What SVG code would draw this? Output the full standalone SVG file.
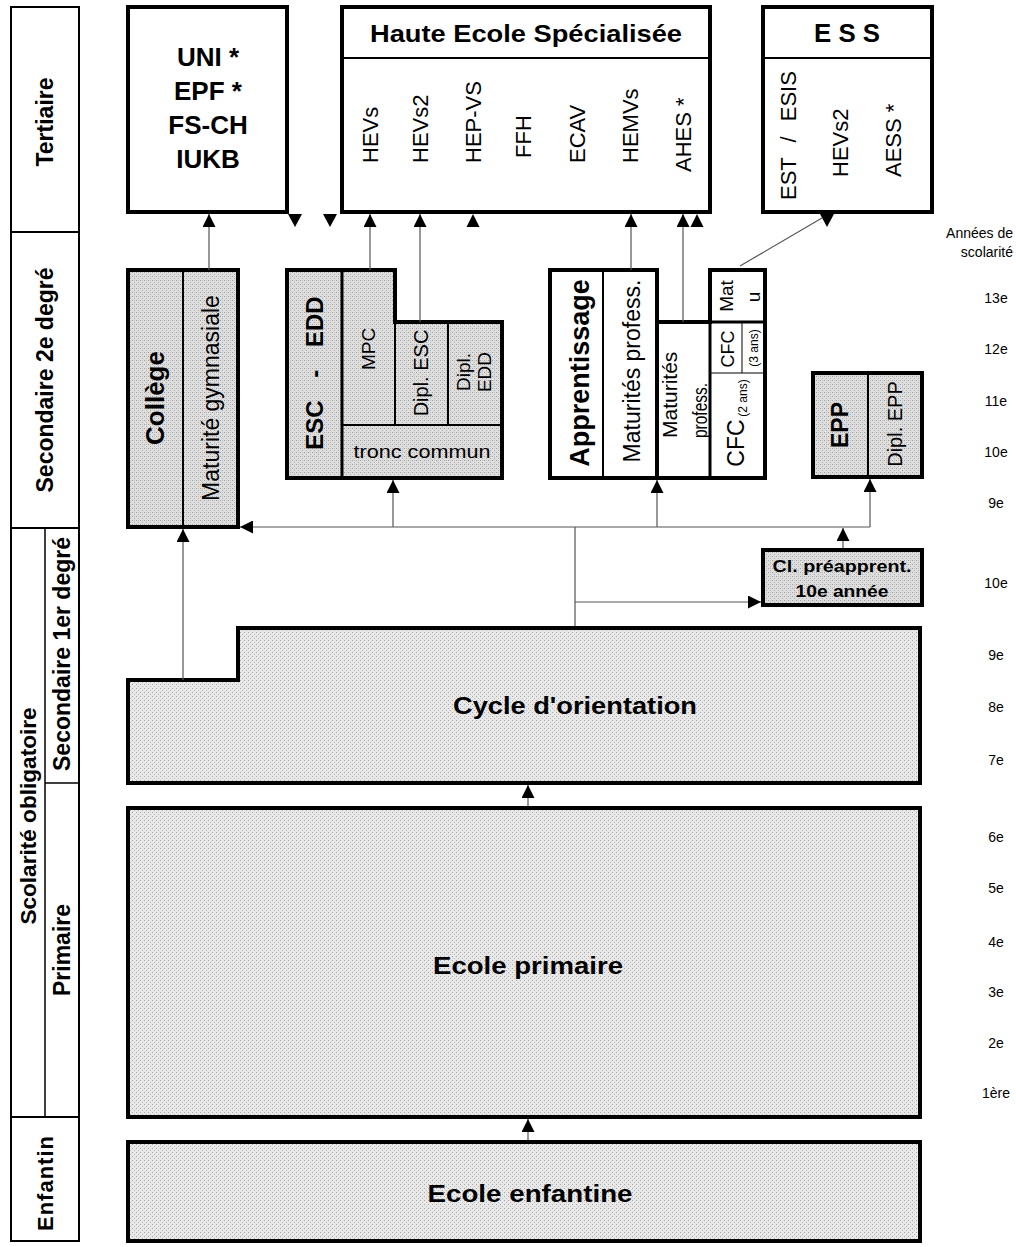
<svg xmlns="http://www.w3.org/2000/svg" width="1016" height="1247" viewBox="0 0 1016 1247">
<defs>
<pattern id="stip" width="4" height="4" patternUnits="userSpaceOnUse">
<rect width="4" height="4" fill="#e8e8e8"/>
<rect x="0" y="0" width="1" height="1" fill="#a8a8a8"/>
<rect x="2" y="2" width="1" height="1" fill="#bcbcbc"/>
</pattern>
<pattern id="stip2" width="4" height="4" patternUnits="userSpaceOnUse">
<rect width="4" height="4" fill="#dedede"/>
<rect x="0" y="0" width="1" height="1" fill="#a0a0a0"/>
<rect x="2" y="2" width="1" height="1" fill="#b0b0b0"/>
<rect x="2" y="0" width="1" height="1" fill="#c4c4c4"/>
</pattern>
<marker id="ah" viewBox="0 0 10 10" refX="10" refY="5" markerWidth="13" markerHeight="13" markerUnits="userSpaceOnUse" orient="auto">
<path d="M0,0 L10,5 L0,10 z" fill="#000"/>
</marker>
</defs>
<style>
text{font-family:"Liberation Sans",Arial,sans-serif;fill:#000}
.b{font-weight:bold}
.box{stroke:#000;stroke-width:4;fill:#fff}
.g1{fill:url(#stip)}
.g2{fill:url(#stip2)}
.div{stroke:#000;stroke-width:3;fill:none}
.thin{stroke:#000;stroke-width:1;fill:none}
.lab{stroke:#000;stroke-width:2;fill:#fff}
.con{stroke:#555;stroke-width:1.2;fill:none;marker-end:url(#ah)}
.ln{stroke:#555;stroke-width:1.2;fill:none}
.tri{fill:#000}
.v{dominant-baseline:central}
.yr{font-size:14px;text-anchor:middle}
.m{text-anchor:middle}
</style>

<g id="left-column">
<rect class="lab" x="11" y="7" width="68" height="225"/>
<rect class="lab" x="11" y="232" width="68" height="296"/>
<rect class="lab" x="11" y="528" width="68" height="589"/>
<line class="div" x1="45" y1="528" x2="45" y2="1117" style="stroke-width:1.5"/>
<line class="div" x1="45" y1="783" x2="79" y2="783" style="stroke-width:1.5"/>
<rect class="lab" x="11" y="1117" width="68" height="124"/>
<text class="b v m" font-size="23" transform="translate(45,122) rotate(-90)">Tertiaire</text>
<text class="b v m" font-size="23" transform="translate(45,380) rotate(-90)">Secondaire 2e degré</text>
<text class="b v m" font-size="22.6" transform="translate(28,816) rotate(-90)">Scolarité obligatoire</text>
<text class="b v m" font-size="23" transform="translate(62,654) rotate(-90)">Secondaire 1er degré</text>
<text class="b v m" font-size="23" transform="translate(62,950) rotate(-90)">Primaire</text>
<text class="b v m" font-size="22" letter-spacing="1" transform="translate(45,1183) rotate(-90)">Enfantin</text>
</g>

<g id="years">
<text font-size="14" text-anchor="end" x="1013" y="238">Années de</text>
<text font-size="14" text-anchor="end" x="1013" y="257">scolarité</text>
<text class="yr" x="996" y="303">13e</text>
<text class="yr" x="996" y="354">12e</text>
<text class="yr" x="996" y="406">11e</text>
<text class="yr" x="996" y="457">10e</text>
<text class="yr" x="996" y="508">9e</text>
<text class="yr" x="996" y="588">10e</text>
<text class="yr" x="996" y="660">9e</text>
<text class="yr" x="996" y="712">8e</text>
<text class="yr" x="996" y="765">7e</text>
<text class="yr" x="996" y="842">6e</text>
<text class="yr" x="996" y="893">5e</text>
<text class="yr" x="996" y="947">4e</text>
<text class="yr" x="996" y="997">3e</text>
<text class="yr" x="996" y="1048">2e</text>
<text class="yr" x="996" y="1098">1ère</text>
</g>

<g id="uni">
<rect class="box" x="128" y="7" width="159" height="205"/>
<text class="b m" font-size="26" x="208" y="66">UNI *</text>
<text class="b m" font-size="26" x="208" y="100">EPF *</text>
<text class="b m" font-size="26" x="208" y="134">FS-CH</text>
<text class="b m" font-size="26" x="208" y="168">IUKB</text>
</g>

<g id="hes">
<rect class="box" x="342" y="7" width="368" height="205"/>
<line class="div" x1="342" y1="58" x2="710" y2="58" style="stroke-width:2"/>
<text class="b m" font-size="24" x="526" y="42" textLength="312" lengthAdjust="spacingAndGlyphs">Haute Ecole Spécialisée</text>
<text class="v" font-size="22" transform="translate(370,163) rotate(-90)">HEVs</text>
<text class="v" font-size="22" transform="translate(420,163) rotate(-90)">HEVs2</text>
<text class="v" font-size="22" transform="translate(473,163) rotate(-90)">HEP-VS</text>
<text class="v" font-size="22" transform="translate(523,158) rotate(-90)">FFH</text>
<text class="v" font-size="22" transform="translate(577,163) rotate(-90)">ECAV</text>
<text class="v" font-size="22" transform="translate(630,163) rotate(-90)">HEMVs</text>
<text class="v" font-size="22" transform="translate(683,172) rotate(-90)">AHES *</text>
</g>

<g id="ess">
<rect class="box" x="763" y="7" width="169" height="205"/>
<line class="div" x1="763" y1="58" x2="932" y2="58" style="stroke-width:2"/>
<text class="b m" font-size="25" x="847" y="42" textLength="66" lengthAdjust="spacingAndGlyphs">E S S</text>
<text class="v" font-size="22" word-spacing="9" transform="translate(788,200) rotate(-90)">EST / ESIS</text>
<text class="v" font-size="22" transform="translate(840,177) rotate(-90)">HEVs2</text>
<text class="v" font-size="22" transform="translate(893,177) rotate(-90)">AESS *</text>
</g>

<g id="college">
<rect class="box g2" x="128" y="270" width="110" height="257"/>
<line class="div" x1="183" y1="270" x2="183" y2="527" style="stroke-width:2"/>
<text class="b v m" font-size="26" transform="translate(155,398) rotate(-90)">Collège</text>
<text class="v m" font-size="23" transform="translate(211,398) rotate(-90)">Maturité gymnasiale</text>
</g>

<g id="esc-edd">
<path class="box g2" d="M287,270 H395 V322 H502 V478 H287 Z"/>
<line class="div" x1="342" y1="270" x2="342" y2="478"/>
<line class="div" x1="395" y1="322" x2="395" y2="425" style="stroke-width:2"/>
<line class="div" x1="342" y1="425" x2="502" y2="425" style="stroke-width:2"/>
<line class="div" x1="448" y1="322" x2="448" y2="425" style="stroke-width:2"/>
<text class="b v m" font-size="24" word-spacing="16" transform="translate(314,373) rotate(-90)">ESC - EDD</text>
<text class="v m" font-size="19" transform="translate(368,349) rotate(-90)">MPC</text>
<text class="v m" font-size="20" transform="translate(421,373) rotate(-90)">Dipl. ESC</text>
<text class="v m" font-size="19" transform="translate(463,372) rotate(-90)">Dipl.</text>
<text class="v m" font-size="19" transform="translate(484,372) rotate(-90)">EDD</text>
<text class="m" font-size="19" x="422" y="458" textLength="137" lengthAdjust="spacingAndGlyphs">tronc commun</text>
</g>

<g id="apprentissage">
<path class="box" d="M550,270 H657 V322 H710 V270 H765 V478 H550 Z"/>
<line class="div" x1="603" y1="270" x2="603" y2="478" style="stroke-width:2"/>
<line class="div" x1="657" y1="322" x2="657" y2="478" style="stroke-width:4"/>
<line class="div" x1="710" y1="322" x2="710" y2="478"/>
<line class="div" x1="710" y1="322" x2="765" y2="322"/>
<line class="thin" x1="710" y1="373" x2="765" y2="373"/>
<line class="thin" x1="742" y1="322" x2="742" y2="373"/>
<text class="b v m" font-size="27" transform="translate(580,373) rotate(-90)">Apprentissage</text>
<text class="v m" font-size="23" transform="translate(632,371) rotate(-90)">Maturités profess.</text>
<text class="v" font-size="21" transform="translate(669,438) rotate(-90)">Maturités</text>
<text class="v" font-size="21" textLength="55" lengthAdjust="spacingAndGlyphs" transform="translate(699,438) rotate(-90)">profess.</text>
<text class="v m" font-size="19" transform="translate(726,296) rotate(-90)">Mat</text>
<text class="v m" font-size="19" transform="translate(753,297) rotate(-90)">u</text>
<text class="v m" font-size="18" transform="translate(728,349) rotate(-90)">CFC</text>
<text class="v m" font-size="12" transform="translate(754,348) rotate(-90)">(3 ans)</text>
<text class="v m" font-size="23" transform="translate(736,443) rotate(-90)">CFC</text>
<text class="v m" font-size="12" transform="translate(743,398) rotate(-90)">(2 ans)</text>
</g>

<g id="epp">
<rect class="box g2" x="813" y="373" width="109" height="104"/>
<line class="div" x1="868" y1="373" x2="868" y2="477" style="stroke-width:2"/>
<text class="b v m" font-size="23" transform="translate(840,425) rotate(-90)">EPP</text>
<text class="v m" font-size="20" transform="translate(895,424) rotate(-90)">Dipl. EPP</text>
</g>

<g id="preapprent">
<rect class="box g2" x="763" y="550" width="159" height="55"/>
<text class="b m" font-size="17" x="842" y="572" textLength="139" lengthAdjust="spacingAndGlyphs">Cl. préapprent.</text>
<text class="b m" font-size="17" x="842" y="597" textLength="93" lengthAdjust="spacingAndGlyphs">10e année</text>
</g>

<g id="cycle">
<path class="box g1" d="M128,680 H238 V628 H920 V783 H128 Z"/>
<text class="b m" font-size="24" x="575" y="714" textLength="244" lengthAdjust="spacingAndGlyphs">Cycle d'orientation</text>
</g>

<g id="primaire">
<rect class="box g1" x="128" y="808" width="792" height="309"/>
<text class="b m" font-size="24" x="528" y="974" textLength="190" lengthAdjust="spacingAndGlyphs">Ecole primaire</text>
</g>

<g id="enfantine">
<rect class="box g1" x="128" y="1142" width="792" height="99"/>
<text class="b m" font-size="24" x="530" y="1202" textLength="205" lengthAdjust="spacingAndGlyphs">Ecole enfantine</text>
</g>

<g id="connectors">
<path class="con" d="M209,270 V214"/>
<path class="con" d="M370,270 V214"/>
<path class="con" d="M420,322 V214"/>
<path class="con" d="M631,270 V214"/>
<path class="con" d="M683,322 V214"/>
<polygon class="tri" points="466.5,214 479.5,214 473,227" transform="rotate(180 473 220.5)"/>
<polygon class="tri" points="690.5,227 703.5,227 697,214"/>
<polygon class="tri" points="288,214 302,214 295,227"/>
<polygon class="tri" points="323,214 337,214 330,227"/>
<polygon class="tri" points="820,214 834,214 827,227"/>
<path class="ln" d="M740,266 L822,218"/>
<path class="con" d="M183,680 V529"/>
<path class="con" d="M870,527 H240"/>
<path class="con" d="M393,527 V480"/>
<path class="con" d="M657,527 V480"/>
<path class="con" d="M870,527 V479"/>
<path class="con" d="M843,548 V528"/>
<path class="ln" d="M575,626 V527"/>
<path class="con" d="M575,602 H761"/>
<path class="con" d="M528,806 V785"/>
<path class="con" d="M528,1140 V1119"/>
</g>
</svg>
